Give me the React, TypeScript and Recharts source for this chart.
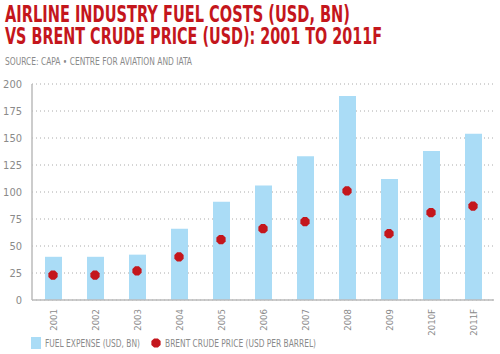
import React from "react";
import { ComposedChart, Bar, Scatter, XAxis, YAxis, CartesianGrid } from "recharts";

const years = ["2001", "2002", "2003", "2004", "2005", "2006", "2007", "2008", "2009", "2010F", "2011F"];
const fuelExpense = [40, 40, 42, 66, 91, 106, 133, 189, 112, 138, 154];
const brentPrice = [23, 23, 27, 40, 56, 66, 72.5, 101, 61.5, 81, 87];
const yTicks = [0, 25, 50, 75, 100, 125, 150, 175, 200];

const data = years.map((y, i) => ({ year: y, fuel: fuelExpense[i], brent: brentPrice[i] }));

const RED = "#c4161c";
const BLUE = "#aadcf6";
const GRAY = "#8a8a8a";
const FONT = "'Liberation Sans Narrow', 'DejaVu Sans Condensed', 'Roboto', sans-serif";

const YTick = (props: any) => {
  const { x, y, payload } = props;
  return (
    <text x={x - 2} y={y + 4} textAnchor="end" fontSize={11} fill={GRAY} fontFamily={FONT}>
      {payload.value}
    </text>
  );
};

const XTick = (props: any) => {
  const { x, y, payload } = props;
  return (
    <text
      x={0}
      y={0}
      transform={`translate(${x + 4},${y + 1}) rotate(-90)`}
      textAnchor="end"
      fontSize={9.5}
      fill={GRAY}
      fontFamily={FONT}
    >
      {payload.value}
    </text>
  );
};

const Dot = (props: any) => {
  const { cx, cy } = props;
  const r = 5;
  const pts = [0, 1, 2, 3, 4, 5, 6, 7]
    .map((k) => {
      const a = (Math.PI / 4) * k + Math.PI / 8;
      return `${cx + r * Math.cos(a)},${cy + r * Math.sin(a)}`;
    })
    .join(" ");
  return <polygon points={pts} fill={RED} />;
};

export default function App() {
  return (
    <div style={{ position: "fixed", left: 0, top: 0, width: 500, height: 354, background: "#fff" }}>
      <svg width={500} height={80} style={{ position: "absolute", left: 0, top: 0 }}>
        <text x={5} y={22} fontSize={23} fontWeight="bold" fill={RED} fontFamily={FONT} textLength={345} lengthAdjust="spacingAndGlyphs">
          AIRLINE INDUSTRY FUEL COSTS (USD, BN)
        </text>
        <text x={5} y={44} fontSize={23} fontWeight="bold" fill={RED} fontFamily={FONT} textLength={377} lengthAdjust="spacingAndGlyphs">
          VS BRENT CRUDE PRICE (USD): 2001 TO 2011F
        </text>
        <text x={5} y={65} fontSize={10} fill={GRAY} fontFamily={FONT} textLength={187} lengthAdjust="spacingAndGlyphs">
          SOURCE: CAPA • CENTRE FOR AVIATION AND IATA
        </text>
      </svg>
      <div style={{ position: "absolute", left: 0, top: 0 }}>
        <ComposedChart width={500} height={354} data={data} margin={{ top: 84, right: 6, bottom: 14, left: 0 }}>
          <CartesianGrid vertical={false} stroke="#aaa" strokeDasharray="1 3" />
          <XAxis
            dataKey="year"
            axisLine={{ stroke: "#bbb", strokeWidth: 1.5 }}
            tickLine={false}
            tick={<XTick />}
            interval={0}
            height={40}
          />
          <YAxis
            domain={[0, 200]}
            ticks={yTicks}
            interval={0}
            width={32}
            axisLine={{ stroke: "#bbb", strokeWidth: 1.5 }}
            tickLine={false}
            tick={<YTick />}
          />
          <Bar dataKey="fuel" fill={BLUE} barSize={17} isAnimationActive={false} />
          <Scatter dataKey="brent" shape={<Dot />} isAnimationActive={false} />
        </ComposedChart>
      </div>
      <svg width={320} height={16} style={{ position: "absolute", left: 30, top: 336 }}>
        <rect x={1} y={1} width={10} height={12} fill={BLUE} />
        <text x={15} y={11} fontSize={10} fill={GRAY} fontFamily={FONT} textLength={95} lengthAdjust="spacingAndGlyphs">
          FUEL EXPENSE (USD, BN)
        </text>
        <Dot cx={126} cy={7} />
        <text x={135} y={11} fontSize={10} fill={GRAY} fontFamily={FONT} textLength={151} lengthAdjust="spacingAndGlyphs">
          BRENT CRUDE PRICE (USD PER BARREL)
        </text>
      </svg>
    </div>
  );
}
